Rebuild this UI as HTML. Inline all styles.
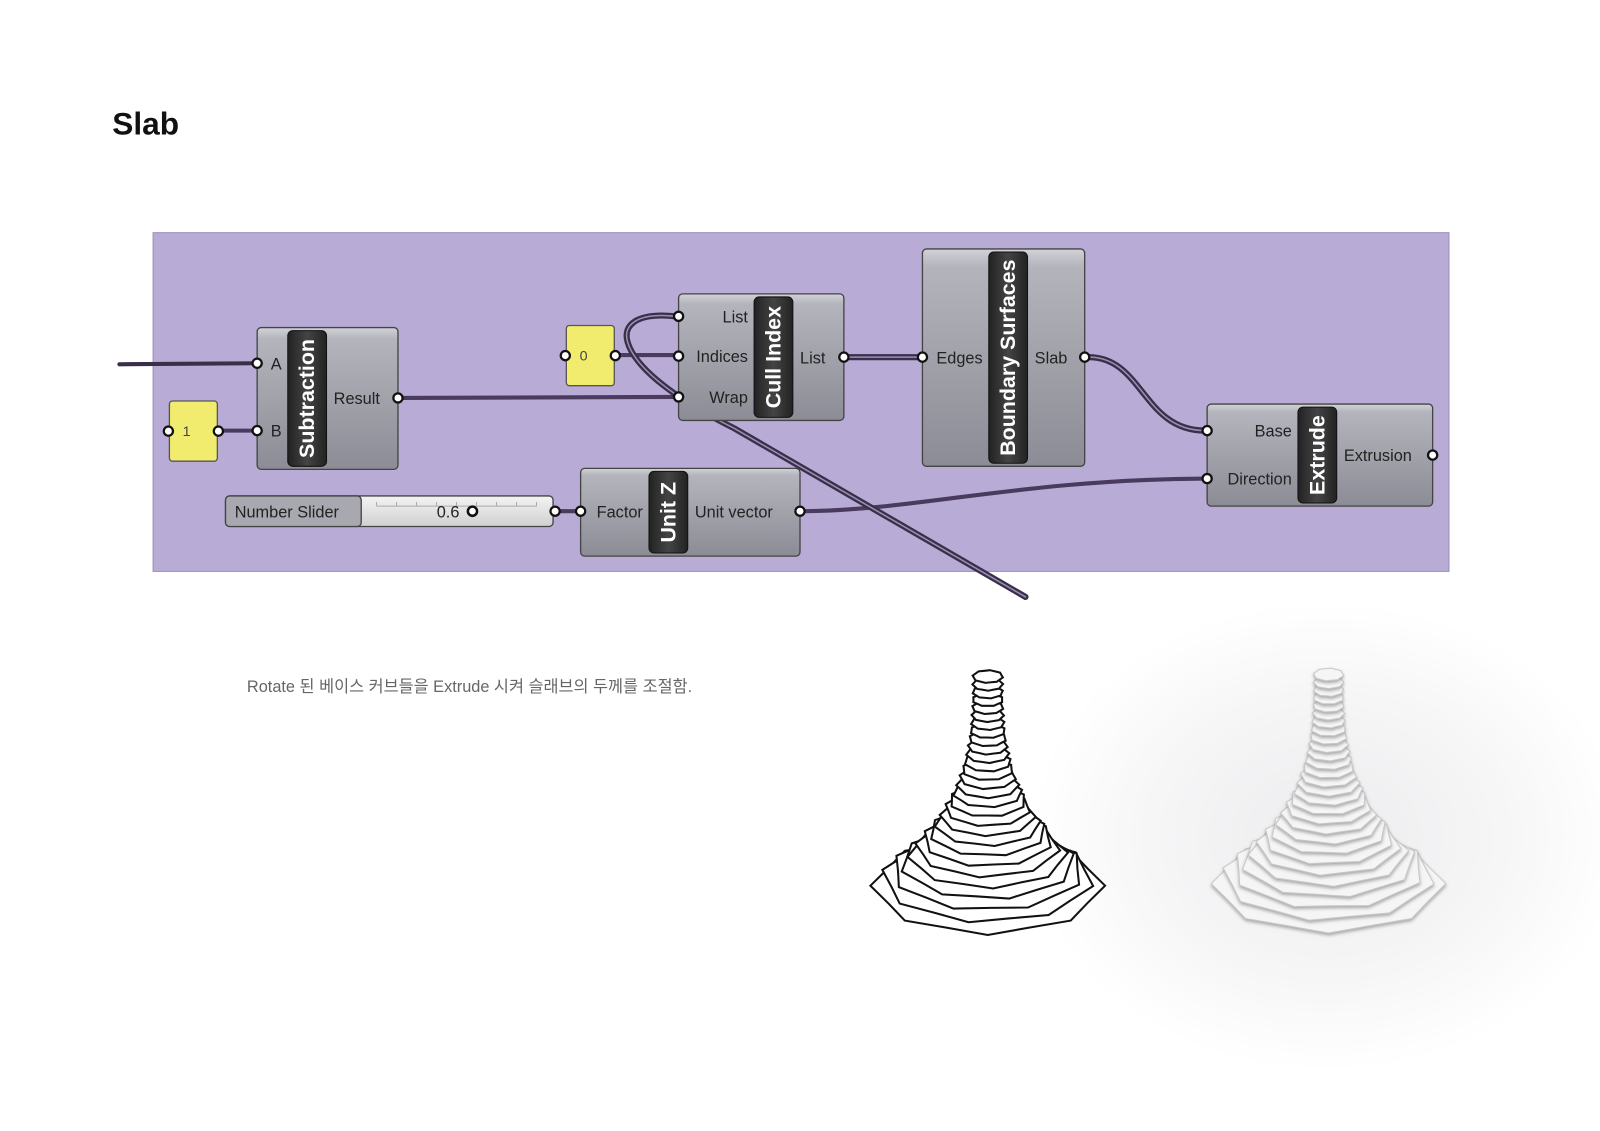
<!DOCTYPE html>
<html><head><meta charset="utf-8"><style>
html,body{margin:0;padding:0;background:#fff;}
svg{display:block;}
text{font-family:"Liberation Sans","Noto Sans CJK KR",sans-serif;}
</style></head><body>
<svg id="s" width="1600" height="1131" viewBox="0 0 1568 1108.4" xmlns="http://www.w3.org/2000/svg">
<defs>
<linearGradient id="ng" x1="0" y1="0" x2="0" y2="1"><stop offset="0" stop-color="#d2d2d8"/><stop offset="0.08" stop-color="#b4b4bc"/><stop offset="1" stop-color="#8c8c96"/></linearGradient>
<linearGradient id="dg" x1="0" y1="0" x2="1" y2="0"><stop offset="0" stop-color="#222"/><stop offset="0.5" stop-color="#444"/><stop offset="1" stop-color="#222"/></linearGradient>
<linearGradient id="sl" x1="0" y1="0" x2="0" y2="1"><stop offset="0" stop-color="#f4f4f4"/><stop offset="1" stop-color="#d0d0d0"/></linearGradient>
<radialGradient id="haze" cx="0.5" cy="0.5" r="0.5"><stop offset="0" stop-color="#ececee"/><stop offset="0.6" stop-color="#f6f6f7"/><stop offset="1" stop-color="#fff"/></radialGradient>
<filter id="blur"><feGaussianBlur stdDeviation="5"/></filter>
<filter id="sh" x="-20%" y="-20%" width="140%" height="160%"><feDropShadow dx="0" dy="2" stdDeviation="1.5" flood-color="#888" flood-opacity="0.7"/></filter>
</defs>
<text x="110" y="132" font-size="31" font-weight="bold" fill="#111">Slab</text>
<rect x="150" y="228" width="1270" height="332" fill="#b8acd6" stroke="#9a90b8" stroke-width="1"/>

<g fill="none" stroke-linecap="round">
<path d="M117 357 L250 356" stroke="#3a2f48" stroke-width="4"/>
<path d="M215 422 L250 422" stroke="#4a3b5e" stroke-width="4"/>
<path d="M393 390 L662 389" stroke="#4a3b5e" stroke-width="4"/>
<path d="M605 348 L662 348" stroke="#4a3b5e" stroke-width="4"/>
<path d="M545 501 L566 501" stroke="#4a3b5e" stroke-width="4"/>
<path d="M787 501 C900 500 1000 470 1181 469" stroke="#4a3b5e" stroke-width="4"/>
<path d="M662 310 C625 306 610 318 615 335 C622 360 660 390 720 420 L1005 585" stroke="#3a2f48" stroke-width="6"/>
<path d="M662 310 C625 306 610 318 615 335 C622 360 660 390 720 420 L1005 585" stroke="#9b8fb8" stroke-width="1.5"/>
<path d="M830 350 L901 350" stroke="#3a2f48" stroke-width="6"/>
<path d="M830 350 L901 350" stroke="#9b8fb8" stroke-width="1.5"/>
<path d="M1067 350 C1120 350 1120 422 1181 422" stroke="#3a2f48" stroke-width="6"/>
<path d="M1067 350 C1120 350 1120 422 1181 422" stroke="#9b8fb8" stroke-width="1.5"/>
</g>

<g id="nodes"></g>

<text x="242" y="678" font-size="16" fill="#666">Rotate 된 베이스 커브들을 Extrude 시켜 슬래브의 두께를 조절함.</text>

<ellipse cx="1300" cy="820" rx="290" ry="230" fill="url(#haze)"/>
<g id="t1"></g>
<g id="t2"></g>
</svg>
<script>
var NS="http://www.w3.org/2000/svg",g=document.getElementById('nodes');
function el(t,a,p,txt){var e=document.createElementNS(NS,t);for(var k in a)e.setAttribute(k,a[k]);if(txt!==undefined)e.textContent=txt;(p||g).appendChild(e);return e;}
function node(x1,y1,x2,y2,dx1,dx2,name,ins,outs,fs){
 el('rect',{x:x1,y:y1,width:x2-x1,height:y2-y1,rx:4,fill:'url(#ng)',stroke:'#444','stroke-width':1.3});
 el('rect',{x:dx1,y:y1+3,width:dx2-dx1,height:y2-y1-6,rx:5,fill:'url(#dg)',stroke:'#111','stroke-width':1});
 var cx=(dx1+dx2)/2,cy=(y1+y2)/2;
 el('text',{x:cx,y:cy,'font-size':fs||21,'font-weight':'bold',fill:'#fff','text-anchor':'middle','dominant-baseline':'central',transform:'rotate(-90 '+cx+' '+cy+')'},g,name);
 ins.forEach(function(p){el('text',{x:dx1-6,y:p[1]+6,'font-size':16,fill:'#222','text-anchor':'end'},g,p[0]);port(x1,p[1]);});
 outs.forEach(function(p){el('text',{x:dx2+7,y:p[1]+6,'font-size':16,fill:'#222'},g,p[0]);port(x2,p[1]);});
}
function port(x,y){el('circle',{cx:x,cy:y,r:4.5,fill:'#fff',stroke:'#111','stroke-width':2.2});}
node(252,321,390,460,282,320,'Subtraction',[['A',356],['B',422]],[['Result',390]]);
node(665,288,827,412,739,777,'Cull Index',[['List',310],['Indices',349],['Wrap',389]],[['List',350]]);
node(904,244,1063,457,969,1007,'Boundary Surfaces',[['Edges',350]],[['Slab',350]]);
node(1183,396,1404,496,1272,1310,'Extrude',[['Base',422],['Direction',469]],[['Extrusion',446]]);
node(569,459,784,545,636,674,'Unit Z',[['Factor',501]],[['Unit vector',501]]);
function yel(x1,y1,x2,y2,t){el('rect',{x:x1,y:y1,width:x2-x1,height:y2-y1,rx:3,fill:'#f2ec6e',stroke:'#555','stroke-width':1.3});el('text',{x:x1+13,y:(y1+y2)/2+5,'font-size':14,fill:'#444'},g,t);port(x1-1,(y1+y2)/2);port(x2+1,(y1+y2)/2);}
yel(166,393,213,452,'1');yel(555,319,602,378,'0');
el('rect',{x:221,y:486,width:321,height:30,rx:4,fill:'url(#sl)',stroke:'#444','stroke-width':1.3});
el('rect',{x:221,y:486,width:133,height:30,rx:4,fill:'#a8a8b0',stroke:'#444','stroke-width':1.3});
el('text',{x:230,y:507,'font-size':16,fill:'#222'},g,'Number Slider');
el('path',{d:'M369 496 L526 496',stroke:'#aaa','stroke-width':1});
for(var i=0;i<9;i++)el('path',{d:'M'+(369+i*19.6)+' 492 L'+(369+i*19.6)+' 496',stroke:'#aaa','stroke-width':1});
el('text',{x:428,y:507,'font-size':16,fill:'#222'},g,'0.6');
el('circle',{cx:463,cy:501,r:4.5,fill:'#fff',stroke:'#111','stroke-width':2.5});
port(544,501);
function tower(id,cx,by,render){
 var t=document.getElementById(id),N=28;
 for(var i=0;i<N;i++){
  var f=i/(N-1),y=by-f*205,r=15+100*Math.pow(1-f,2.8),ry=0.42;
  var pts=[],M=16;
  for(var k=0;k<M;k++){var a=k/M*Math.PI*2+i*0.18,rr=r*(k%2?0.92:1);pts.push((cx+rr*Math.cos(a)).toFixed(1)+','+(y+rr*ry*Math.sin(a)).toFixed(1));}
  if(render) el('polygon',{points:pts.join(' '),fill:'#f5f5f5',stroke:'#c8c8c8','stroke-width':1,filter:'url(#sh)'},t);
  else el('polygon',{points:pts.join(' '),fill:'#fff',stroke:'#111','stroke-width':2,'stroke-linejoin':'miter'},t);
 }
}
tower('t1',968,868,false);
tower('t2',1302,866,true);
</script>
</body></html>
